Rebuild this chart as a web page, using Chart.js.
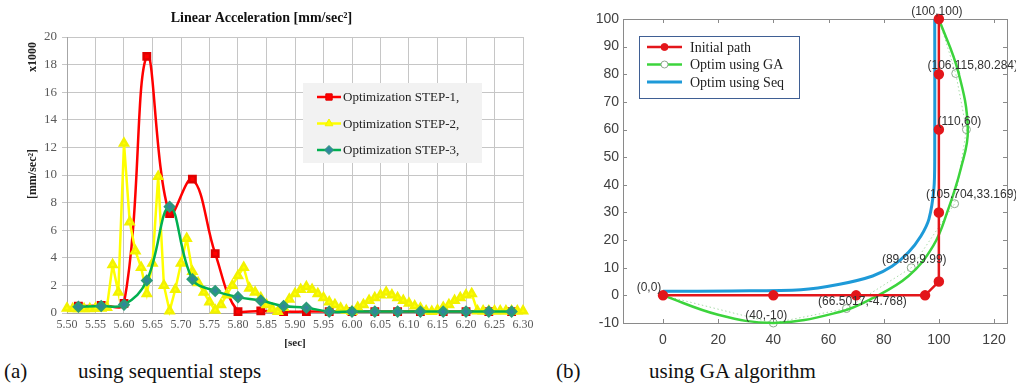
<!DOCTYPE html>
<html>
<head>
<meta charset="utf-8">
<script src="https://cdn.jsdelivr.net/npm/chart.js@4.4.0/dist/chart.umd.min.js"></script>
<style>
  body { margin: 0; background: #fff; width: 1016px; height: 389px; position: relative; overflow: hidden; font-family: 'Liberation Serif', serif; }
  #wa { position: absolute; left: 0; top: 0; width: 540px; height: 350px; }
  #wb { position: absolute; left: 540px; top: 0; width: 476px; height: 350px; }
  .cap { position: absolute; top: 359px; font-size: 21px; line-height: 24px; color: #111; white-space: nowrap; }
</style>
</head>
<body>
<div id="wa"><canvas id="accChart"></canvas></div>
<div id="wb"><canvas id="pathChart"></canvas></div>
<div class="cap" style="left:4px">(a)</div>
<div class="cap" style="left:78px">using sequential steps</div>
<div class="cap" style="left:556px">(b)</div>
<div class="cap" style="left:649px">using GA algorithm</div>

<script>
// --- (a) data: linear acceleration, x1000 mm/sec^2 ---
const tCoarse = [5.52, 5.56, 5.60, 5.64, 5.68, 5.72, 5.76, 5.80, 5.84, 5.88,
                 5.92, 5.96, 6.00, 6.04, 6.08, 6.12, 6.16, 6.20, 6.24, 6.28];
const step1 = [0.5, 0.55, 0.7, 18.6, 7.2, 9.7, 4.3, 0.1, 0.15, 0.1,
               0.1, 0.1, 0.1, 0.1, 0.1, 0.1, 0.1, 0.1, 0.1, 0.1];
const step3 = [0.45, 0.5, 0.6, 2.35, 7.7, 2.45, 1.6, 1.15, 0.9, 0.5,
               0.38, 0.1, 0.1, 0.1, 0.1, 0.1, 0.1, 0.1, 0.1, 0.1];
const tFine = [5.50, 5.51, 5.52, 5.53, 5.54, 5.55, 5.56, 5.57, 5.58, 5.59,
               5.60, 5.61, 5.62, 5.63, 5.64, 5.65, 5.66, 5.67, 5.68, 5.69,
               5.70, 5.71, 5.72, 5.73, 5.74, 5.75, 5.76, 5.77, 5.78, 5.79,
               5.80, 5.81, 5.82, 5.83, 5.84, 5.85, 5.86, 5.87, 5.88, 5.89,
               5.90, 5.91, 5.92, 5.93, 5.94, 5.95, 5.96, 5.97, 5.98, 5.99,
               6.00, 6.01, 6.02, 6.03, 6.04, 6.05, 6.06, 6.07, 6.08, 6.09,
               6.10, 6.11, 6.12, 6.13, 6.14, 6.15, 6.16, 6.17, 6.18, 6.19,
               6.20, 6.21, 6.22, 6.23, 6.24, 6.25, 6.26, 6.27, 6.28, 6.29, 6.30];
const step2 = [0.35, 0.3, 0.3, 0.3, 0.3, 0.35, 0.35, 0.4, 3.5, 1.5,
               12.3, 6.6, 4.5, 3.3, 1.4, 3.6, 9.9, 2.0, 0.15, 1.7,
               3.6, 5.4, 3.0, 2.2, 1.5, 0.8, 0.2, 0.6, 1.3, 2.0,
               2.7, 3.3, 1.8, 1.5, 1.1, 0.6, 0.3, 0.1, 0.4, 1.0,
               1.4, 1.7, 1.9, 1.7, 1.4, 1.1, 0.8, 0.6, 0.35, 0.2,
               0.1, 0.4, 0.6, 0.9, 1.1, 1.3, 1.5, 1.3, 1.1, 0.9,
               0.7, 0.5, 0.35, 0.15, 0.1, 0.2, 0.4, 0.6, 0.9, 1.1,
               1.3, 1.4, 0.15, 0.15, 0.15, 0.15, 0.15, 0.15, 0.15, 0.15, 0.15];
const accXTicks = [5.50, 5.55, 5.60, 5.65, 5.70, 5.75, 5.80, 5.85, 5.90,
                   5.95, 6.00, 6.05, 6.10, 6.15, 6.20, 6.25, 6.30];
const accYTicks = [0, 2, 4, 6, 8, 10, 12, 14, 16, 18, 20];
const accNames = ['Optimization STEP-1,', 'Optimization STEP-2,', 'Optimization STEP-3,'];

// --- (b) data: path planning ---
const initX = [0, 40, 70, 95, 100, 100, 100, 100, 100];
const initY = [0, 0, 0, 0, 5, 30, 60, 80, 100];
const gaX = [0, 40, 66.5017, 89.99, 105.704, 110, 106.115, 100];
const gaY = [0, -10, -4.768, 9.99, 33.169, 60, 80.284, 100];
const gaText = ['(0,0)', '(40,-10)', '(66.5017,-4.768)', '(89.99,9.99)',
                '(105.704,33.169)', '(110,60)', '(106.115,80.284)', '(100,100)'];
const gaCurveX = [0, 20, 40, 64, 76, 89, 98, 103, 108, 110.5, 107, 100];
const gaCurveY = [0, -7, -10, -6, -1, 7, 18, 30, 46, 60, 81, 100];
const seqX = [0, 25, 50, 64, 76, 83, 89, 93.5, 96.4, 98.2, 98.5, 98.5];
const seqY = [1.5, 1.6, 2, 4, 7, 10.5, 15.6, 21.5, 27.6, 38.5, 50, 100];
const pathXTicks = [0, 20, 40, 60, 80, 100, 120];
const pathYTicks = [-10, 0, 10, 20, 30, 40, 50, 60, 70, 80, 90, 100];
const pathNames = ['Initial path', 'Optim using GA', 'Optim using Seq'];

const SERIF = "'Liberation Serif', 'Times New Roman', serif";
const NARROW = "'Liberation Sans Narrow', 'Liberation Sans', Arial, sans-serif";
Chart.defaults.font.family = SERIF;

function pts(xs, ys) { return xs.map((x, i) => ({ x: x, y: ys[i] })); }

// small legend drawn inside the plot like the original figures
function drawKey(ctx, box, rows) {
    ctx.save();
    if (box.fill) { ctx.fillStyle = box.fill; ctx.fillRect(box.x, box.y, box.w, box.h); }
    if (box.stroke) { ctx.strokeStyle = box.stroke; ctx.lineWidth = 1; ctx.strokeRect(box.x + 0.5, box.y + 0.5, box.w, box.h); }
    ctx.font = box.font;
    ctx.textBaseline = 'middle';
    rows.forEach((r, i) => {
        const y = box.y + box.first + i * box.gap;
        const x0 = box.x + box.lx0, x1 = box.x + box.lx1;
        ctx.setLineDash([]);
        ctx.strokeStyle = r.line; ctx.lineWidth = r.width;
        ctx.beginPath(); ctx.moveTo(x0, y); ctx.lineTo(x1, y); ctx.stroke();
        if (r.style) {
            ctx.fillStyle = r.fill; ctx.strokeStyle = r.edge; ctx.lineWidth = 1;
            Chart.helpers.drawPoint(ctx, { pointStyle: r.style, radius: r.radius, borderWidth: 1, rotation: 0 }, (x0 + x1) / 2, y);
        }
        ctx.fillStyle = box.color;
        ctx.fillText(r.text, box.x + box.tx, y + 1);
    });
    ctx.restore();
}

// --- 1. Acceleration chart ---
const accDecor = {
    id: 'accDecor',
    afterDraw(chart) {
        const ctx = chart.ctx;
        ctx.save();
        ctx.fillStyle = '#222';
        ctx.font = 'bold 12px ' + SERIF;
        ctx.textAlign = 'center'; ctx.textBaseline = 'middle';
        ctx.translate(33, 0); ctx.rotate(-Math.PI / 2);
        ctx.fillText('x1000', -57, 0);
        ctx.fillText('[mm/sec\u00B2]', -174, 0);
        ctx.restore();
        const ds = chart.data.datasets;
        drawKey(ctx, { x: 303, y: 83, w: 179, h: 80, fill: '#f2f2f2', font: '13px ' + SERIF, color: '#222',
                       first: 14, gap: 26.5, lx0: 14, lx1: 38, tx: 40 },
            ds.map(d => ({ text: d.label, line: d.borderColor, width: 2.5, style: d.pointStyle,
                           radius: d.pointRadius, fill: d.pointBackgroundColor, edge: d.pointBorderColor })));
    }
};

new Chart(document.getElementById('accChart'), {
    type: 'line',
    data: {
        datasets: [{
            label: accNames[0],
            data: pts(tCoarse, step1),
            borderColor: '#ff0000',
            borderWidth: 2.5,
            pointStyle: 'rect',
            pointRadius: 4.5,
            pointBackgroundColor: '#ff0000',
            pointBorderColor: '#e00000',
            tension: 0.4,
            order: 3
        }, {
            label: accNames[1],
            data: pts(tFine, step2),
            borderColor: '#ffff00',
            borderWidth: 2.5,
            pointStyle: 'triangle',
            pointRadius: 4.5,
            pointBackgroundColor: '#ffff00',
            pointBorderColor: '#f2f200',
            tension: 0,
            order: 2
        }, {
            label: accNames[2],
            data: pts(tCoarse, step3),
            borderColor: '#00b050',
            borderWidth: 2.5,
            pointStyle: 'rectRot',
            pointRadius: 4.5,
            pointBackgroundColor: '#31859c',
            pointBorderColor: '#2a9a7a',
            tension: 0.4,
            order: 1
        }]
    },
    options: {
        responsive: true,
        maintainAspectRatio: false,
        animation: false,
        events: [],
        clip: false,
        layout: { padding: { left: 0, right: 17, top: 0, bottom: 0 } },
        plugins: {
            legend: { display: false },
            tooltip: { enabled: false },
            title: {
                display: true,
                text: 'Linear Acceleration [mm/sec\u00B2]',
                color: '#111',
                font: { family: SERIF, size: 14, weight: 'bold', lineHeight: 1.2 },
                padding: { top: 10, bottom: 10.2 }
            }
        },
        scales: {
            x: {
                type: 'linear',
                min: 5.5,
                max: 6.3,
                afterBuildTicks: s => { s.ticks = accXTicks.map(v => ({ value: v })); },
                afterFit: s => { s.height = 37; },
                grid: { color: '#c6c6c6', drawTicks: false },
                border: { color: '#a6a6a6' },
                ticks: {
                    autoSkip: false, maxRotation: 0, padding: 5,
                    color: '#595959', font: { family: SERIF, size: 12 },
                    callback: v => Number(v).toFixed(2)
                },
                title: {
                    display: true, text: '[sec]', color: '#222',
                    font: { family: SERIF, size: 11, weight: 'bold' },
                    padding: { top: 0, bottom: 0 }
                }
            },
            y: {
                min: 0,
                max: 20,
                afterBuildTicks: s => { s.ticks = accYTicks.map(v => ({ value: v })); },
                afterFit: s => { s.width = 67; },
                grid: { color: '#c6c6c6', tickLength: 5 },
                border: { color: '#a6a6a6' },
                ticks: { padding: 5, color: '#595959', font: { family: SERIF, size: 13 } }
            }
        }
    },
    plugins: [accDecor]
});

// --- 2. Path chart ---
const pathFrame = {
    id: 'pathFrame',
    beforeDatasetsDraw(chart) {
        const { ctx, chartArea: a, scales: { x, y } } = chart;
        ctx.save();
        ctx.strokeStyle = '#8a8a8a';
        ctx.lineWidth = 1;
        ctx.strokeRect(Math.round(a.left) + 0.5, Math.round(a.top) + 0.5, Math.round(a.right - a.left), Math.round(a.bottom - a.top));
        ctx.beginPath();
        pathXTicks.forEach(v => {
            const px = Math.round(x.getPixelForValue(v)) + 0.5;
            ctx.moveTo(px, a.bottom); ctx.lineTo(px, a.bottom - 4);
            ctx.moveTo(px, a.top); ctx.lineTo(px, a.top + 4);
        });
        pathYTicks.forEach(v => {
            const py = Math.round(y.getPixelForValue(v)) + 0.5;
            ctx.moveTo(a.left, py); ctx.lineTo(a.left + 4, py);
            ctx.moveTo(a.right, py); ctx.lineTo(a.right - 4, py);
        });
        ctx.stroke();
        ctx.restore();
    },
    afterDraw(chart) {
        const { ctx, scales: { x, y } } = chart;
        // offsets of the point labels, in pixels
        const nudge = [[-14, -8], [-7, -7], [16, -7], [3, -8], [17, -9], [-7, -8], [17, -8], [-2, -7]];
        ctx.save();
        ctx.font = '12px ' + NARROW;
        ctx.fillStyle = '#333';
        ctx.textAlign = 'center';
        ctx.textBaseline = 'middle';
        gaText.forEach((t, i) => {
            ctx.fillText(t, x.getPixelForValue(gaX[i]) + nudge[i][0], y.getPixelForValue(gaY[i]) + nudge[i][1]);
        });
        ctx.restore();
        drawKey(ctx, { x: 99, y: 36, w: 160, h: 62, fill: '#fff', stroke: '#3f5f94', font: '14px ' + SERIF, color: '#222',
                       first: 11, gap: 17.5, lx0: 8, lx1: 43, tx: 51 }, [
            { text: pathNames[0], line: '#e3161b', width: 2.5, style: 'circle', radius: 3.5, fill: '#e3161b', edge: '#e3161b' },
            { text: pathNames[1], line: '#3cd43c', width: 2.5, style: 'circle', radius: 3.5, fill: '#ffffff', edge: '#8fa88f' },
            { text: pathNames[2], line: '#1e9ad8', width: 3, style: null }
        ]);
    }
};

new Chart(document.getElementById('pathChart'), {
    type: 'scatter',
    data: {
        datasets: [{
            label: pathNames[0],
            data: pts(initX, initY),
            showLine: true,
            borderColor: '#e3161b',
            borderWidth: 2.5,
            pointRadius: 4,
            pointBackgroundColor: '#e3161b',
            pointBorderColor: '#e3161b',
            tension: 0,
            order: 1
        }, {
            label: pathNames[2],
            data: pts(seqX, seqY),
            showLine: true,
            borderColor: '#1e9ad8',
            borderWidth: 3,
            pointRadius: 0,
            tension: 0.3,
            order: 2
        }, {
            label: pathNames[1],
            data: pts(gaCurveX, gaCurveY),
            showLine: true,
            borderColor: '#3cd43c',
            borderWidth: 2.5,
            pointRadius: 0,
            tension: 0.4,
            order: 3
        }, {
            label: pathNames[1] + ' points',
            data: pts(gaX, gaY),
            showLine: true,
            borderColor: '#a9d9a9',
            borderWidth: 1,
            borderDash: [1.5, 2.5],
            pointRadius: 4,
            pointBackgroundColor: 'rgba(0,0,0,0)',
            pointBorderColor: '#8fa88f',
            pointBorderWidth: 1,
            tension: 0,
            order: 4
        }]
    },
    options: {
        responsive: true,
        maintainAspectRatio: false,
        animation: false,
        events: [],
        clip: false,
        layout: { padding: { left: 0, right: 9, top: 19, bottom: 0 } },
        plugins: { legend: { display: false }, tooltip: { enabled: false } },
        scales: {
            x: {
                type: 'linear',
                min: -14.5,
                max: 124.7,
                afterBuildTicks: s => { s.ticks = pathXTicks.map(v => ({ value: v })); },
                afterFit: s => { s.height = 27; },
                grid: { display: false, drawTicks: false },
                border: { display: false },
                ticks: { padding: 9, color: '#404040', font: { family: NARROW, size: 14 } }
            },
            y: {
                min: -10,
                max: 100,
                afterBuildTicks: s => { s.ticks = pathYTicks.map(v => ({ value: v })); },
                afterFit: s => { s.width = 83; },
                grid: { display: false, drawTicks: false },
                border: { display: false },
                ticks: { padding: 4, color: '#404040', font: { family: NARROW, size: 14 } }
            }
        }
    },
    plugins: [pathFrame]
});
</script>
</body>
</html>
